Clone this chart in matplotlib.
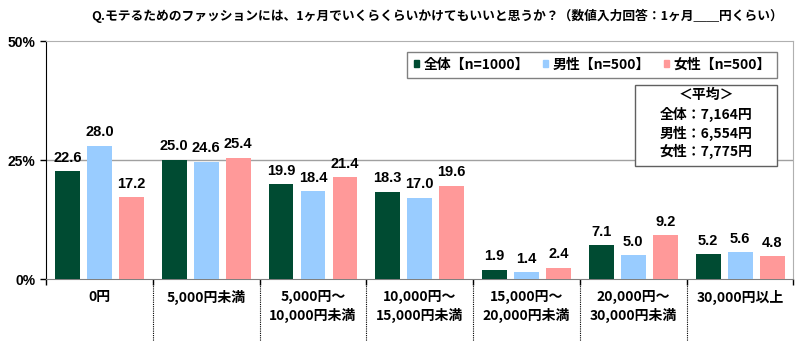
import numpy as np
import matplotlib
matplotlib.use("Agg")
import matplotlib.pyplot as plt
from matplotlib.patches import Patch, Rectangle

plt.rcParams['font.family'] = ['Noto Sans CJK JP', 'DejaVu Sans']

categories = ['0円', '5,000円未満', '5,000円～\n10,000円未満', '10,000円～\n15,000円未満',
              '15,000円～\n20,000円未満', '20,000円～\n30,000円未満', '30,000円以上']
total = [22.6, 25.0, 19.9, 18.3, 1.9, 7.1, 5.2]
male = [28.0, 24.6, 18.4, 17.0, 1.4, 5.0, 5.6]
female = [17.2, 25.4, 21.4, 19.6, 2.4, 9.2, 4.8]
series_names = ['全体【n=1000】', '男性【n=500】', '女性【n=500】']
colors = ['#004B32', '#99CCFF', '#FF9999']
title = 'Q.モテるためのファッションには、1ヶ月でいくらくらいかけてもいいと思うか？（数値入力回答：1ヶ月＿＿円くらい）'
avg_lines = ['＜平均＞', '全体：7,164円', '男性：6,554円', '女性：7,775円']


def main():
    fig = plt.figure(figsize=(8.02, 3.51), dpi=100)
    ax = fig.add_axes([0.0574, 0.205, 0.932, 0.678])

    x = np.arange(len(categories))
    w = 0.233
    step = 0.3
    for i, (vals, c) in enumerate(zip([total, male, female], colors)):
        pos = x + (i - 1) * step
        ax.bar(pos, vals, w, color=c, zorder=3)
        for p, v in zip(pos, vals):
            ax.text(p, v + 1.4, f'{v:.1f}', ha='center', va='bottom',
                    fontsize=10.5, fontweight='bold', family=['Liberation Sans', 'DejaVu Sans'])

    ax.set_xlim(-0.5, len(categories) - 0.5)
    ax.set_ylim(0, 50)
    ax.set_yticks([0, 25, 50])
    ax.set_yticklabels(['0%', '25%', '50%'], fontsize=10, fontweight='bold',
                       family=['Liberation Sans', 'DejaVu Sans'])
    ax.axhline(25, color='#A0A0A0', lw=1, zorder=1)
    ax.tick_params(axis='y', length=4, width=1)

    ax.set_xticks(x)
    ax.set_xticklabels(categories, fontsize=10, fontweight='bold', linespacing=1.3)
    ax.tick_params(axis='x', length=0, pad=8)
    for s in np.arange(0.5, len(categories) - 1, 1.0):
        ax.plot([s, s], [0, -13], color='black', lw=0.8, ls=(0, (1, 1)),
                clip_on=False, zorder=2)
    ax.set_xticks(np.arange(-0.5, len(categories), 1.0), minor=True)
    ax.tick_params(axis='x', which='minor', length=4, width=1, direction='out')

    for side in ['top', 'right']:
        ax.spines[side].set_color('#B0B0B0')
    ax.spines['left'].set_color('black')
    ax.spines['bottom'].set_color('#808080')

    handles = [Patch(color=c) for c in colors]
    leg = ax.legend(handles, series_names, loc='upper right', ncol=3,
                    bbox_to_anchor=(0.978, 0.956), borderaxespad=0,
                    frameon=True, fancybox=False,
                    edgecolor='#606060', handlelength=0.4, handleheight=0.4,
                    handletextpad=0.3, columnspacing=1.0, borderpad=0.45,
                    prop={'size': 10, 'weight': 'bold'})
    leg.get_frame().set_linewidth(1)

    # average box
    bx0, bx1 = 0.788, 0.978
    by0, by1 = 23.7, 40.8
    ax.add_patch(Rectangle((bx0, by0 / 50), bx1 - bx0, (by1 - by0) / 50,
                           transform=ax.transAxes, fc='white', ec='#606060',
                           lw=1, zorder=5))
    cx = (bx0 + bx1) / 2
    ys = [38.6, 34.6, 30.6, 26.8]
    for t, yv in zip(avg_lines, ys):
        ax.text(cx, yv / 50, t, transform=ax.transAxes, ha='center', va='center',
                fontsize=10, fontweight='bold', zorder=6)

    fig.text(0.545, 0.955, title, ha='center', va='center',
             fontsize=9.2, fontweight='bold')

    fig.savefig('out.png', dpi=100)


if __name__ == '__main__':
    main()
